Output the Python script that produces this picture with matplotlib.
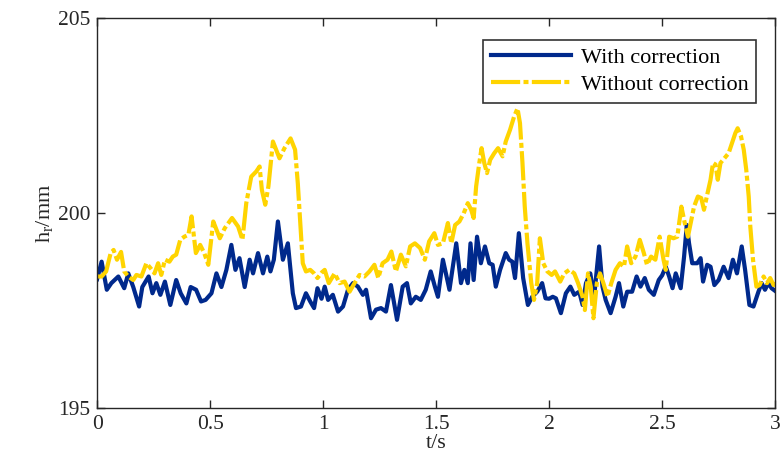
import matplotlib
matplotlib.use("Agg")
import matplotlib.pyplot as plt

# values
t_with = [0.0, 0.02, 0.043, 0.063, 0.094, 0.12, 0.138, 0.16, 0.186, 0.2, 0.228, 0.245, 0.262, 0.28, 0.3,
          0.324, 0.35, 0.37, 0.395, 0.414, 0.438, 0.46, 0.48, 0.506, 0.528, 0.55, 0.572, 0.594, 0.612, 0.63,
          0.653, 0.675, 0.69, 0.712, 0.734, 0.753, 0.767, 0.782, 0.8, 0.822, 0.844, 0.866, 0.88, 0.902, 0.924,
          0.943, 0.96, 0.975, 0.993, 1.007, 1.022, 1.043, 1.066, 1.088, 1.11, 1.132, 1.154, 1.176, 1.19, 1.212,
          1.234, 1.256, 1.278, 1.3, 1.327, 1.352, 1.371, 1.388, 1.41, 1.432, 1.454, 1.476, 1.495, 1.508, 1.53,
          1.559, 1.589, 1.61, 1.625, 1.64, 1.652, 1.666, 1.681, 1.698, 1.716, 1.735, 1.75, 1.764, 1.783, 1.808,
          1.823, 1.837, 1.849, 1.866, 1.885, 1.906, 1.925, 1.947, 1.969, 1.984, 2.0, 2.016, 2.03, 2.052, 2.074,
          2.094, 2.111, 2.133, 2.148, 2.163, 2.182, 2.199, 2.221, 2.236, 2.25, 2.272, 2.294, 2.309, 2.328, 2.345,
          2.367, 2.387, 2.404, 2.423, 2.441, 2.463, 2.485, 2.5, 2.516, 2.531, 2.546, 2.56, 2.582, 2.597, 2.609,
          2.619, 2.633, 2.655, 2.67, 2.681, 2.699, 2.714, 2.731, 2.75, 2.772, 2.794, 2.813, 2.831, 2.852, 2.867,
          2.886, 2.904, 2.926, 2.94, 2.955, 2.97, 2.984, 3.0]
h_with = [198.3, 198.75, 198.03, 198.2, 198.37, 198.07, 198.45, 198.1, 197.6, 198.1, 198.37, 197.94, 198.2, 197.9, 198.24,
          197.64, 198.28, 197.94, 197.68, 198.1, 198.03, 197.73, 197.77, 197.94, 198.45, 198.1, 198.54, 199.18, 198.54, 198.84,
          198.1, 198.8, 198.45, 198.97, 198.45, 198.88, 198.5, 198.8, 199.78, 198.8, 199.22, 197.94, 197.56, 197.6, 197.94,
          197.73, 197.56, 198.07, 197.8, 198.11, 197.77, 197.9, 197.47, 197.6, 198.03, 198.2, 198.11, 197.9, 198.03, 197.3,
          197.52, 197.56, 197.47, 198.15, 197.26, 198.11, 198.2, 197.68, 197.85, 197.77, 198.03, 198.5, 198.1, 197.85, 198.8,
          198.03, 199.22, 198.2, 198.54, 198.2, 199.22, 198.28, 199.39, 198.71, 199.14, 198.71, 198.67, 198.11, 198.54, 198.97,
          198.8, 198.75, 198.33, 199.48, 198.33, 197.64, 197.85, 197.98, 198.2, 197.81, 197.8, 197.85, 197.81, 197.43, 197.94,
          198.11, 197.9, 197.98, 197.64, 198.2, 198.45, 197.85, 199.14, 198.11, 197.77, 197.43, 197.85, 198.2, 197.6, 197.98,
          197.98, 198.37, 198.11, 198.33, 198.03, 197.9, 198.28, 198.4, 198.62, 198.37, 198.07, 198.45, 198.07, 198.88, 199.69,
          199.22, 198.71, 198.71, 198.84, 198.24, 198.67, 198.62, 198.15, 198.28, 198.62, 198.33, 198.8, 198.45, 199.14, 198.54,
          197.64, 197.6, 197.98, 198.2, 198.03, 198.2, 198.07, 198.0]

t_without = [0.0, 0.02, 0.04, 0.06, 0.073, 0.088, 0.106, 0.12, 0.138, 0.16, 0.174, 0.196, 0.218, 0.237, 0.254,
             0.27, 0.284, 0.3, 0.32, 0.335, 0.35, 0.368, 0.386, 0.404, 0.418, 0.437, 0.456, 0.474, 0.492, 0.514,
             0.543, 0.565, 0.597, 0.624, 0.643, 0.66, 0.682, 0.704, 0.719, 0.729, 0.744, 0.758, 0.778, 0.792, 0.807,
             0.829, 0.856, 0.876, 0.888, 0.9, 0.91, 0.924, 0.943, 0.96, 0.975, 0.995, 1.007, 1.025, 1.051, 1.073,
             1.095, 1.117, 1.139, 1.161, 1.183, 1.205, 1.227, 1.244, 1.263, 1.285, 1.302, 1.322, 1.344, 1.366, 1.385,
             1.406, 1.429, 1.45, 1.469, 1.492, 1.508, 1.53, 1.552, 1.567, 1.584, 1.603, 1.622, 1.64, 1.655, 1.666,
             1.677, 1.691, 1.701, 1.713, 1.725, 1.739, 1.757, 1.774, 1.794, 1.808, 1.827, 1.845, 1.86, 1.871, 1.882,
             1.892, 1.904, 1.921, 1.933, 1.947, 1.959, 1.974, 1.992, 2.011, 2.026, 2.049, 2.067, 2.089, 2.111, 2.128,
             2.148, 2.158, 2.172, 2.184, 2.196, 2.211, 2.225, 2.24, 2.258, 2.275, 2.294, 2.313, 2.331, 2.345, 2.363,
             2.382, 2.401, 2.419, 2.433, 2.451, 2.47, 2.489, 2.506, 2.516, 2.531, 2.55, 2.567, 2.585, 2.6, 2.614,
             2.629, 2.641, 2.658, 2.673, 2.685, 2.699, 2.714, 2.725, 2.736, 2.746, 2.758, 2.775, 2.794, 2.809, 2.824,
             2.834, 2.849, 2.861, 2.872, 2.883, 2.89, 2.902, 2.917, 2.931, 2.949, 2.964, 2.978, 2.993, 3.0]
h_without = [198.37, 198.37, 198.5, 198.97, 199.05, 198.8, 199.0, 198.5, 198.37, 198.28, 198.41, 198.37, 198.71, 198.58, 198.45,
             198.71, 198.41, 198.8, 198.75, 198.88, 198.93, 199.31, 199.39, 199.44, 199.91, 198.97, 199.18, 198.97, 198.67, 199.78,
             199.35, 199.61, 199.87, 199.65, 199.31, 200.25, 200.93, 201.06, 201.19, 200.59, 200.21, 200.68, 201.83, 201.62, 201.4,
             201.66, 201.91, 201.62, 200.76, 199.65, 198.71, 198.5, 198.54, 198.45, 198.33, 198.48, 198.54, 198.2, 198.45, 198.2,
             198.24, 197.98, 198.2, 198.41, 198.37, 198.5, 198.67, 198.33, 198.71, 198.8, 199.01, 198.5, 198.93, 198.63, 199.14,
             199.22, 199.1, 198.8, 199.27, 199.48, 199.18, 199.22, 199.74, 199.22, 199.69, 199.78, 199.99, 200.25, 200.08, 199.87,
             200.68, 201.28, 201.66, 201.28, 201.02, 201.36, 201.53, 201.66, 201.45, 201.83, 202.13, 202.47, 202.68, 202.3, 201.28,
             200.17, 199.22, 198.2, 197.77, 198.2, 199.35, 198.71, 198.5, 198.41, 198.5, 198.24, 198.45, 198.54, 198.45, 198.2,
             197.85, 197.51, 198.45, 198.11, 197.3, 198.2, 198.45, 198.2, 197.85, 198.2, 198.54, 198.71, 198.62, 199.14, 198.71,
             198.88, 199.31, 198.97, 198.67, 198.88, 198.8, 199.39, 198.8, 198.54, 199.39, 199.35, 199.39, 200.16, 199.74, 199.39,
             199.82, 200.16, 200.42, 200.38, 200.08, 200.46, 200.85, 201.28, 201.24, 200.85, 201.28, 201.4, 201.53, 201.79, 202.05,
             202.17, 201.96, 201.62, 201.11, 200.42, 199.65, 198.8, 198.11, 198.15, 198.37, 198.2, 198.33, 198.15, 198.2]

x_ticks = [0, 0.5, 1, 1.5, 2, 2.5, 3]
x_tick_labels = ["0", "0.5", "1", "1.5", "2", "2.5", "3"]
y_ticks = [195, 200, 205]

plt.rcParams['font.family'] = ['Liberation Serif', 'DejaVu Serif']
plt.rcParams['mathtext.fontset'] = 'custom'
plt.rcParams['mathtext.rm'] = 'Liberation Serif'
plt.rcParams['mathtext.it'] = 'Liberation Serif:italic'

fig = plt.figure(figsize=(7.83, 4.70), dpi=100)
ax = fig.add_axes([0.124, 0.132, 0.866, 0.830])

ax.plot(t_with, h_with, color='#00298C', lw=3.0, label='With correction')
ax.plot(t_without, h_without, color='#FFD400', lw=3.0, dashes=(7, 0.8, 1.2, 0.8),
        label='Without correction')

ax.set_xlim(0, 3)
ax.set_ylim(195, 205)
ax.set_xticks(x_ticks)
ax.set_xticklabels(x_tick_labels)
ax.set_yticks(y_ticks)

ax.tick_params(direction='in', top=True, right=True, length=6, width=1,
               labelsize=15.5, colors='#262626', pad=5)
for sp in ax.spines.values():
    sp.set_color('#262626')
    sp.set_linewidth(1)

ax.set_xlabel('t/s', fontsize=16, color='#262626', labelpad=0)
ax.set_ylabel(r'h$_{\mathrm{r}}$/mm', fontsize=16, color='#262626', labelpad=2)

leg = ax.legend(loc='upper right', bbox_to_anchor=(0.972, 0.944), fontsize=16,
                frameon=True, fancybox=False, handlelength=3.6, borderpad=0.35,
                labelspacing=0.3, handletextpad=0.45, borderaxespad=0)
leg.get_frame().set_edgecolor('black')
leg.get_frame().set_linewidth(1.2)

fig.savefig('out.png', dpi=100)
